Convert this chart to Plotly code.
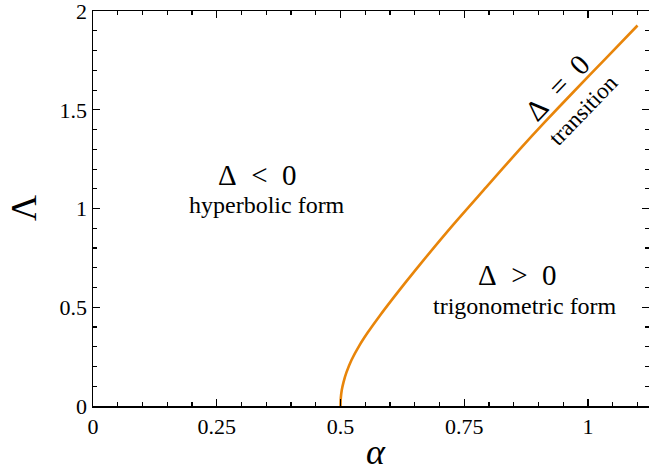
import plotly.graph_objects as go

# Transition curve Delta = 0
alpha = [0.500, 0.5006, 0.5025, 0.506, 0.512, 0.522, 0.538, 0.555, 0.579, 0.606,
         0.633, 0.660, 0.727, 0.794, 0.862, 0.913, 0.970, 1.038, 1.100]
Lam = [0.000, 0.040, 0.080, 0.120, 0.170, 0.232, 0.306, 0.372, 0.456, 0.545,
       0.631, 0.715, 0.916, 1.107, 1.300, 1.439, 1.589, 1.766, 1.927]

x_ticks = [0, 0.25, 0.5, 0.75, 1]
x_ticktext = ["0", "0.25", "0.5", "0.75", "1"]
y_ticks = [0, 0.5, 1, 1.5, 2]
y_ticktext = ["0", "0.5", "1", "1.5", "2"]

FONT = "Liberation Serif"
ORANGE = "#e8850a"

fig = go.Figure()
fig.add_trace(go.Scatter(x=alpha, y=Lam, mode="lines",
                         line=dict(color=ORANGE, width=2.6, shape="spline", smoothing=0.7),
                         showlegend=False, hoverinfo="skip"))

axis_common = dict(
    showgrid=False, zeroline=False,
    showline=True, linecolor="black", linewidth=1.5, mirror="ticks",
    ticks="inside", ticklen=7, tickwidth=1.3, tickcolor="black",
    tickfont=dict(family=FONT, size=22, color="black"),
    ticklabeloverflow="allow", automargin=False,
)

fig.update_xaxes(range=[0, 1.1232], tickvals=x_ticks, ticktext=x_ticktext,
                 minor=dict(dtick=0.05, ticks="inside", ticklen=4, tickwidth=1.1,
                            tickcolor="black", showgrid=False),
                 **axis_common)
fig.update_yaxes(range=[0, 2.0005], tickvals=y_ticks, ticktext=y_ticktext,
                 minor=dict(dtick=0.1, ticks="inside", ticklen=4, tickwidth=1.1,
                            tickcolor="black", showgrid=False),
                 **axis_common)

# axis titles (placed precisely as annotations)
fig.add_annotation(text="<i>α</i>", xref="x", x=0.572, yref="paper", y=0, yshift=-46,
                   showarrow=False, xanchor="center", yanchor="middle",
                   font=dict(family=FONT, size=36, color="black"))
fig.add_annotation(text="Λ", xref="paper", x=0, xshift=-69, yref="paper", y=0.501,
                   showarrow=False, xanchor="center", yanchor="middle", textangle=-90,
                   font=dict(family=FONT, size=36, color="black"))

SP = "\u2002"
ann = [
    dict(x=0.333, y=1.17, text=f"Δ{SP}<{SP}0", size=29, angle=0),
    dict(x=0.351, y=1.02, text="hyperbolic form", size=24, angle=0),
    dict(x=0.857, y=0.665, text=f"Δ{SP}>{SP}0", size=29, angle=0),
    dict(x=0.873, y=0.506, text="trigonometric form", size=24, angle=0),
    dict(x=0.939, y=1.614, text=f"Δ{SP}={SP}0", size=29, angle=-46),
    dict(x=0.990, y=1.495, text="transition", size=23, angle=-46),
]
for a in ann:
    fig.add_annotation(x=a["x"], y=a["y"], xref="x", yref="y", text=a["text"],
                       showarrow=False, textangle=a["angle"],
                       font=dict(family=FONT, size=a["size"], color="black"),
                       xanchor="center", yanchor="middle")

fig.update_layout(
    width=649, height=473,
    margin=dict(l=93, r=0, t=11, b=67, autoexpand=False),
    paper_bgcolor="white", plot_bgcolor="white",
    font=dict(family=FONT, color="black"),
)

# remove the default page margin so the figure fills the window exactly
fig.write_html("out.html",
               config=dict(displayModeBar=False, staticPlot=True),
               post_script="document.body.style.margin='0';document.body.style.overflow='hidden';")
